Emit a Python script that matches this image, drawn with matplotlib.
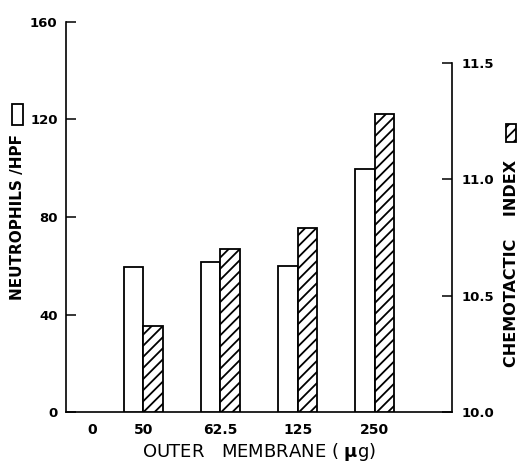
import numpy as np
import matplotlib
matplotlib.use('Agg')
import matplotlib.pyplot as plt
from matplotlib.patches import Rectangle

# values
doses = ['0', '50', '62.5', '125', '250']
neutrophils = [59.3, 61.7, 59.7, 99.6]      # open bars, left axis (50..250)
chemotactic = [10.37, 10.70, 10.79, 11.28]  # hatched bars, right axis (50..250)
left_ticks = [0, 40, 80, 120, 160]
right_ticks = [10.0, 10.5, 11.0, 11.5]
right_labels = ['10.0', '10.5', '11.0', '11.5']

plt.rcParams['hatch.linewidth'] = 1.3
plt.rcParams['font.family'] = 'DejaVu Sans'

fig = plt.figure(figsize=(5.26, 4.65), dpi=100)
ax = fig.add_axes([66/526, 1-412/465, (452-66)/526, (412-22)/465])
ax2 = ax.twinx()

pos = np.arange(1, 5)
w = 0.25
ax.bar(pos - w/2, neutrophils, width=w, color='white', edgecolor='black', linewidth=1.3, zorder=3)
ax2.bar(pos + w/2, np.array(chemotactic) - 10.0, bottom=10.0, width=w, color='white',
        edgecolor='black', linewidth=1.3, hatch='///', zorder=3)

ax.set_xlim(0, 5)
ax.set_ylim(0, 160)
ax2.set_ylim(10.0, 10.0 + (411-22)/232)

ax.set_xticks([0.34, 1, 2, 3, 4])
ax.set_xticklabels(doses, fontsize=10, fontweight='bold')
ax.tick_params(axis='x', length=0, pad=8)

ax.set_yticks(left_ticks)
ax.set_yticklabels([str(t) for t in left_ticks], fontsize=9.5, fontweight='bold')
ax.tick_params(axis='y', which='both', direction='in', length=7, width=1.1, pad=6)

ax2.set_yticks(right_ticks)
ax2.set_yticklabels(right_labels, fontsize=9.5, fontweight='bold')
ax2.tick_params(axis='y', which='both', direction='in', length=7, width=1.1, pad=7)

for a in (ax, ax2):
    a.spines['top'].set_visible(False)
    for s in a.spines.values():
        s.set_linewidth(1.2)
ax.spines['right'].set_visible(False)
ax2.spines['left'].set_visible(False)
ax2.spines['bottom'].set_visible(False)
ax2.spines['right'].set_bounds(10.0, 11.5)

ax.set_xlabel('OUTER   MEMBRANE ( $\\mathbf{\\mu}$g)', fontsize=13, labelpad=3)

# rotated axis titles with their key boxes
fig.text(18/526, 1-217/465, 'NEUTROPHILS /HPF', rotation=90, fontsize=11,
         fontweight='bold', ha='center', va='center')
fig.text(511/526, 1-263/465, 'CHEMOTACTIC    INDEX', rotation=90, fontsize=11.5,
         fontweight='bold', ha='center', va='center')
fig.add_artist(Rectangle((12/526, 1-125/465), 11/526, 21/465, transform=fig.transFigure,
                         facecolor='white', edgecolor='black', linewidth=1.3))
fig.add_artist(Rectangle((506/526, 1-142/465), 10/526, 18/465, transform=fig.transFigure,
                         facecolor='white', edgecolor='black', linewidth=1.3, hatch='///'))

fig.savefig('out.png', dpi=100)
